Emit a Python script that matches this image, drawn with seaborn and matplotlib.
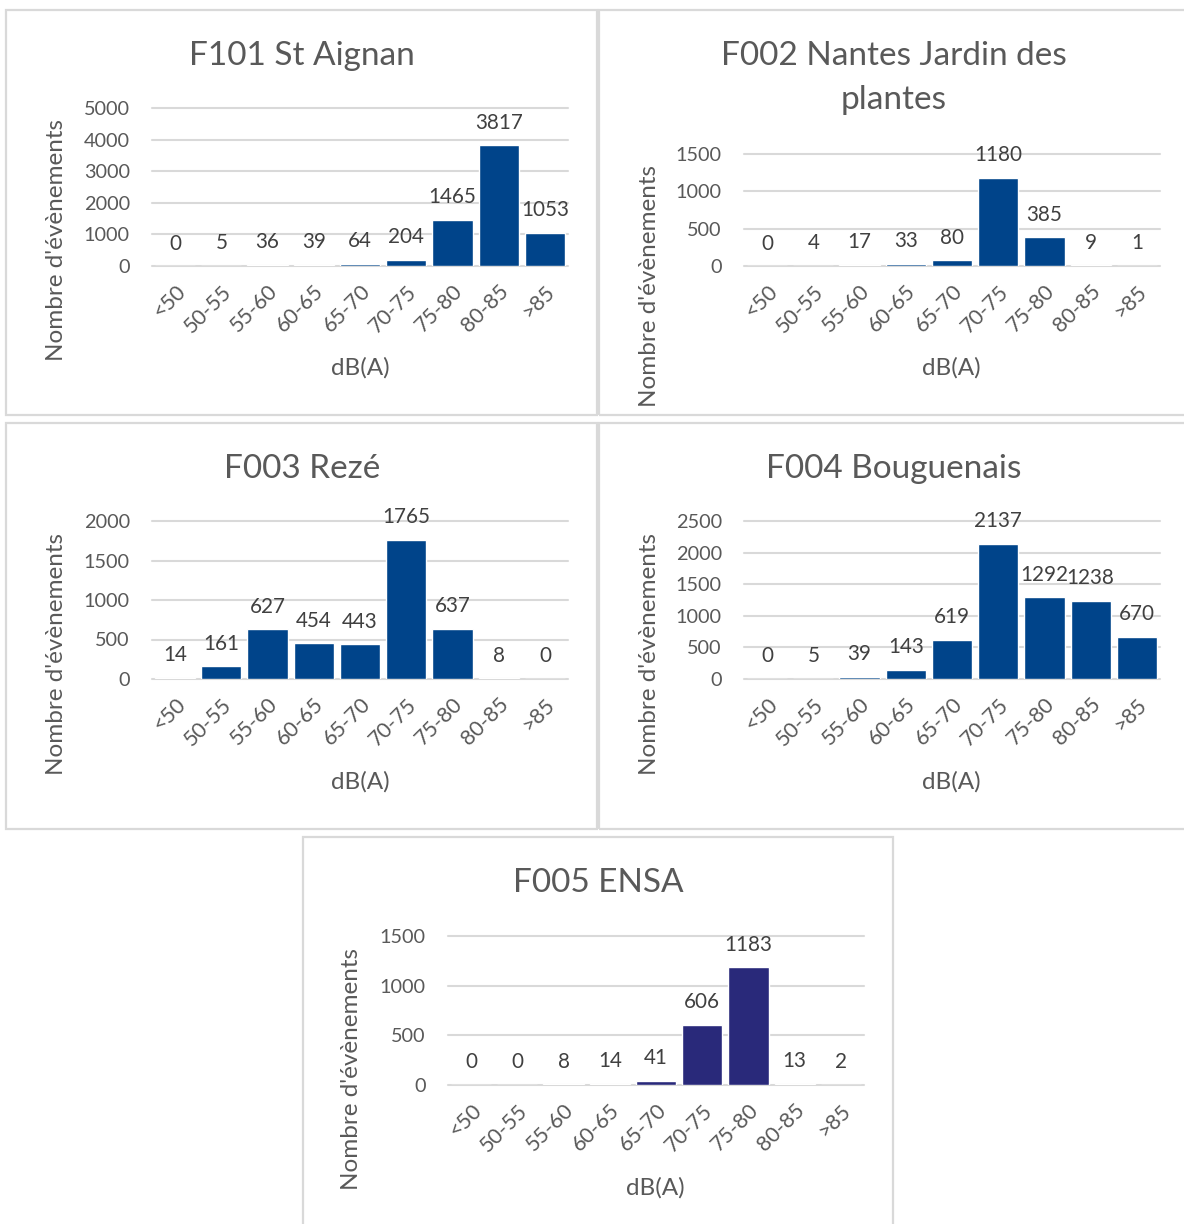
import matplotlib
matplotlib.use("Agg")
import matplotlib.pyplot as plt
import seaborn as sns
from matplotlib.patches import Rectangle

# classes de bruit (dB(A))
classes = ["<50", "50-55", "55-60", "60-65", "65-70", "70-75", "75-80", "80-85", ">85"]

# nombre d'évènements par station
st_aignan = [0, 5, 36, 39, 64, 204, 1465, 3817, 1053]
nantes_jdp = [0, 4, 17, 33, 80, 1180, 385, 9, 1]
reze = [14, 161, 627, 454, 443, 1765, 637, 8, 0]
bouguenais = [0, 5, 39, 143, 619, 2137, 1292, 1238, 670]
ensa = [0, 0, 8, 14, 41, 606, 1183, 13, 2]

titles = ["F101 St Aignan", "F002 Nantes Jardin des\nplantes", "F003 Rezé",
          "F004 Bouguenais", "F005 ENSA"]
y_max = [5000, 1500, 2000, 2500, 1500]
y_step = [1000, 500, 500, 500, 500]

W, H = 1184, 1224
GREY = "#595959"
GRID = "#D9D9D9"
BLUE = "#00448A"
NAVY = "#29297A"

sns.set_style("white")
plt.rcParams["font.family"] = ["Lato", "DejaVu Sans"]

fig = plt.figure(figsize=(W / 100, H / 100), dpi=100)


def fx(x):
    return x / W


def fy(y):
    return 1 - y / H


def draw_panel(values, title, ymax, step, color, box, axbox, title_xy, ylab_xy, xlab_xy):
    x0, y0, x1, y1 = box
    fig.add_artist(Rectangle((fx(x0), fy(y1)), fx(x1 - x0), (y1 - y0) / H,
                             transform=fig.transFigure, fill=False,
                             ec=GRID, lw=1.6))
    l, t, r, b = axbox
    ax = fig.add_axes([fx(l), fy(b), fx(r - l), (b - t) / H])
    sns.barplot(x=classes, y=values, color=color, saturation=1, width=0.87, ax=ax)
    ax.set_ylim(0, ymax)
    ax.set_yticks(range(0, ymax + 1, step))
    ax.set_xlim(-0.5, len(classes) - 0.5)
    ax.grid(axis="y", color=GRID, lw=1.5)
    ax.set_axisbelow(True)
    for line in ax.get_ygridlines():
        line.set_clip_on(False)
    sns.despine(ax=ax, left=True, bottom=True)
    ax.tick_params(axis="y", length=0, pad=16, labelsize=14.3, labelcolor=GREY)
    ax.tick_params(axis="x", length=0, pad=11, labelsize=15.5, labelcolor=GREY)
    ax.set_xticks(range(len(classes)))
    ax.set_xticklabels(classes, rotation=45, ha="right", rotation_mode="anchor")
    ax.set_xlabel("")
    ax.set_ylabel("")
    for cont in ax.containers:
        ax.bar_label(cont, padding=9, fontsize=14.9, color="#404040")
    fig.text(fx(title_xy[0]), fy(title_xy[1]), title, ha="center", va="center",
             fontsize=24, color=GREY, linespacing=1.55)
    fig.text(fx(ylab_xy[0]), fy(ylab_xy[1]), "Nombre d'évènements", rotation=90,
             ha="center", va="center", fontsize=17.5, color=GREY)
    fig.text(fx(xlab_xy[0]), fy(xlab_xy[1]), "dB(A)", ha="center", va="center",
             fontsize=17.5, color=GREY)
    return ax


draw_panel(st_aignan, titles[0], y_max[0], y_step[0], BLUE,
           (6, 10, 597, 415), (152, 108, 568, 266), (302, 56), (57, 240), (360, 368))
draw_panel(nantes_jdp, titles[1], y_max[1], y_step[1], BLUE,
           (599, 10, 1195, 415), (744, 154, 1160, 266), (894, 78), (650, 286), (951, 368))
draw_panel(reze, titles[2], y_max[2], y_step[2], BLUE,
           (6, 423, 597, 829), (152, 521, 568, 679), (302, 469), (57, 654), (360, 782))
draw_panel(bouguenais, titles[3], y_max[3], y_step[3], BLUE,
           (599, 423, 1195, 829), (744, 521, 1160, 679), (894, 469), (650, 654), (951, 782))
draw_panel(ensa, titles[4], y_max[4], y_step[4], NAVY,
           (303, 837, 893, 1235), (448, 936, 864, 1085), (598, 883), (352, 1069), (655, 1188))

plt.savefig("out.png", dpi=100, facecolor="white")
